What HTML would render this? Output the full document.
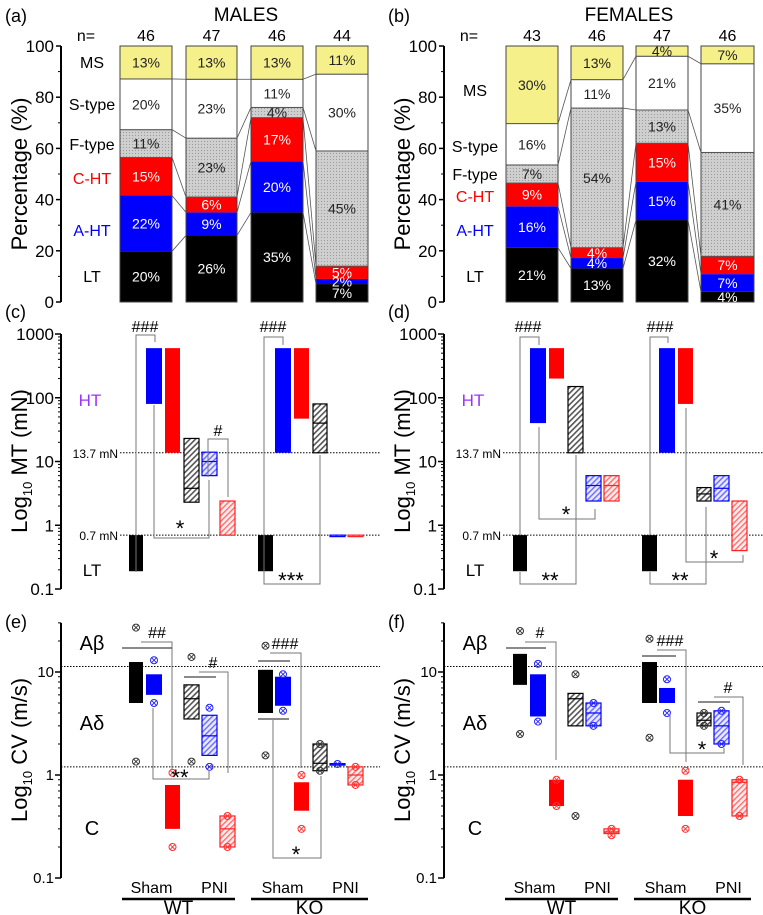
<!DOCTYPE html>
<html><head><meta charset="utf-8"><style>
html,body{margin:0;padding:0;background:#fff}
svg{display:block;font-family:"Liberation Sans",sans-serif}
</style></head><body>
<svg id="fig" width="763" height="915" viewBox="0 0 763 915" xmlns="http://www.w3.org/2000/svg">
<defs>
<pattern id="dots" width="3" height="3" patternUnits="userSpaceOnUse"><rect width="3" height="3" fill="#cfcfcf"/><rect width="1" height="1" fill="#9a9a9a"/></pattern>
<pattern id="hk" width="4" height="4" patternUnits="userSpaceOnUse" patternTransform="rotate(45)"><rect width="4" height="4" fill="#fff"/><rect width="1.6" height="4" fill="#555"/></pattern>
<pattern id="hb" width="4" height="4" patternUnits="userSpaceOnUse" patternTransform="rotate(45)"><rect width="4" height="4" fill="#e8e8ff"/><rect width="1.4" height="4" fill="#6b6bff"/></pattern>
<pattern id="hr" width="4" height="4" patternUnits="userSpaceOnUse" patternTransform="rotate(45)"><rect width="4" height="4" fill="#ffecec"/><rect width="1.4" height="4" fill="#ff7070"/></pattern>
</defs>
</svg>
<script>
// ---- data: stacked percentages (LT, A-HT, C-HT, F-type, S-type, MS)
const segNames=["LT","A-HT","C-HT","F-type","S-type","MS"];
const malesN=[46,47,46,44];
const malesPct=[[20,22,15,11,20,13],[26,9,6,23,23,13],[35,20,17,4,11,13],[7,2,5,45,30,11]];
const femalesN=[43,46,47,46];
const femalesPct=[[21,16,9,7,16,30],[13,4,4,54,11,13],[32,15,15,13,21,4],[4,7,7,41,35,7]];
// ---- MT ranges [low, high, median|null]
const mtMales=[[0.19,0.7,null],[80,600,null],[13.7,600,null],[2.3,23,3.8],[6,14,10],[0.7,2.4,null],
               [0.19,0.7,null],[13.7,600,null],[47,600,null],[13.7,80,40],[0.69,0.7,null],[0.69,0.7,null]];
const mtFemales=[[0.19,0.7,null],[40,600,null],[200,600,null],[13.7,150,null],[2.4,6,4.2],[2.4,6,4.2],
                 [0.19,0.7,null],[13.7,600,null],[80,600,null],[2.4,3.9,3.1],[2.4,6,3.8],[0.4,2.4,null]];
// ---- CV ranges [low, high, median|null] and outlier points
const cvMales=[[5,12.5,null],[6,9.5,null],[0.3,0.8,null],[3.5,7.5,5.5],[1.55,3.8,2.4],[0.2,0.4,0.3],
               [4,10.5,null],[4.7,9,null],[0.45,0.85,null],[1.1,2,1.3],[1.27,1.29,1.28],[0.8,1.2,1.0]];
const cvMalesPts=[[27,1.35],[13,5],[1.05,0.2],[14,1.35],[4.5,1.2],[0.4,0.2],[18,1.55],[9.5,4.2],[1.0,0.3],[2,1.1],[1.28],[1.2,0.8]];
const cvFemales=[[7.5,15,null],[3.7,9.5,null],[0.5,0.9,null],[3,6.2,5.5],[3,5,4],[0.27,0.3,0.28],
                 [5,12.5,null],[5,7,null],[0.4,0.9,null],[3,4,3.4],[2,4.2,3],[0.4,0.9,0.85]];
const cvFemalesPts=[[25,2.5],[12,3.3],[0.9,0.5],[9.5,0.4],[5,3],[0.3,0.26],[21,2.3],[8.5,4],[1.1,0.3],[4,3],[4.2,2],[0.9,0.4]];
const pctTicks=[0,20,40,60,80,100];
const mtTicks=[0.1,1,10,100,1000];
const cvTicks=[0.1,1,10];

const NS="http://www.w3.org/2000/svg";
const svg=document.getElementById('fig');
function mk(tag,at,parent){const e=document.createElementNS(NS,tag);for(const k in at)e.setAttribute(k,at[k]);(parent||svg).appendChild(e);return e;}
function txt(x,y,s,size,anchor,fill,name){const t=mk('text',{x:x,y:y,'font-size':size,'text-anchor':anchor||'middle',fill:fill||'#000'});t.textContent=s;

return t;}

const segFill=["#000","#0000ff","#ff0000","url(#dots)","#fff","#f5f08a"];
const segText=["#fff","#fff","#fff","#222","#222","#222"];
const groupFill=["#000","#0000ff","#ff0000","url(#hk)","url(#hb)","url(#hr)"];
const groupStroke=["#000","#0000ff","#ff0000","#000","#0000ff","#ff2020"];
const ptColor=["#333","#2222ff","#ff3030","#333","#2222ff","#ff3030"];

function panel(ox,title,letter,nArr,pct,mt,cv,pts,barX,grpX,catY){
  const y0=302,y100=46,py=v=>y0-(y0-y100)*v/100;
  txt(ox+5,22,letter[0],18,'start','#000','panel-letter');
  txt(ox+246,21,title,19,'middle','#000','panel-title');
  txt(ox+86,41,'n=',16,'middle','#000','n-label');
  const ax=ox+61;
  const g=mk('g',{});
  mk('line',{x1:ax,y1:y100,x2:ax,y2:y0,stroke:'#000','stroke-width':2},g);
  pctTicks.forEach(t=>{mk('line',{x1:ax-5,y1:py(t),x2:ax,y2:py(t),stroke:'#000','stroke-width':1.5},g);
    txt(ax-7,py(t)+6,String(t),17,'end','#000','y-tick-label');});
  for(let t=10;t<100;t+=20)mk('line',{x1:ax-3,y1:py(t),x2:ax,y2:py(t),stroke:'#000'},g);
  const tt=txt(0,0,'Percentage (%)',22,'middle','#000','y-axis-title');tt.setAttribute('transform',`translate(${ox+27},174) rotate(-90)`);
  const bounds=[];
  pct.forEach((p,i)=>{const sum=p.reduce((a,b)=>a+b,0);let c=0;const bx=ox+barX[i][0],bw=barX[i][1]-barX[i][0];const bd=[0];
    txt(bx+bw/2,41,String(nArr[i]),16,'middle','#000','n-value');
    p.forEach((v,k)=>{const a=c/sum*100,b=(c+v)/sum*100;c+=v;bd.push(b);
      const r=mk('rect',{x:bx,y:py(b),width:bw,height:py(a)-py(b),fill:segFill[k],stroke:k>=3?'#555':'none','stroke-width':1},g);
      
      
      txt(bx+bw/2,(py(a)+py(b))/2+5,v+'%',14,'middle',segText[k],'segment-value');});
    mk('rect',{x:bx,y:y100,width:bw,height:y0-y100,fill:'none',stroke:'#444','stroke-width':1},g);
    bounds.push(bd);});
  for(let i=0;i<3;i++)for(let k=1;k<6;k++)mk('line',{x1:ox+barX[i][1],y1:py(bounds[i][k]),x2:ox+barX[i+1][0],y2:py(bounds[i+1][k]),stroke:'#555','stroke-width':0.8},g);
  catY.forEach((c,k)=>txt(ox+92,c,segNames[k],16,'middle',['#000','#0000ff','#ff0000','#000','#000','#000'][k],'category-label'));

  const mty=v=>334+(3-Math.log10(v))*63.75;
  txt(ox+5,318,letter[1],18,'start','#000','panel-letter');
  const g2=mk('g',{});
  mk('line',{x1:ax,y1:mty(1000),x2:ax,y2:mty(0.1),stroke:'#000','stroke-width':2},g2);
  mtTicks.forEach(t=>{mk('line',{x1:ax-6,y1:mty(t),x2:ax,y2:mty(t),stroke:'#000','stroke-width':1.5},g2);txt(ax-7,mty(t)+6,String(t),17,'end','#000','y-tick-label');
    if(t<1000)for(let m=2;m<10;m++)mk('line',{x1:ax-3,y1:mty(t*m),x2:ax,y2:mty(t*m),stroke:'#000'},g2);});
  const t2=txt(0,0,'',22,'middle','#000','y-axis-title');t2.setAttribute('transform',`translate(${ox+27},461) rotate(-90)`);
  t2.innerHTML='Log<tspan font-size="13" dy="5">10</tspan><tspan dy="-5"> MT (mN)</tspan>';
  [[13.7,'13.7 mN'],[0.7,'0.7 mN']].forEach(d=>{mk('line',{x1:ox+120,y1:mty(d[0]),x2:ox+380,y2:mty(d[0]),stroke:'#000','stroke-dasharray':'1.5,1.5'},g2);
    txt(ox+118,mty(d[0])+5,d[1],12,'end','#000','threshold-label');});
  txt(ox+90,406,'HT',17,'middle','#9933ff','ht-label');txt(ox+92,576,'LT',17,'middle','#000','lt-label');
  mt.forEach((d,i)=>{const x=ox+grpX[i][0],w=grpX[i][1]-grpX[i][0];const yh=mty(d[1]),yl=mty(d[0]);
    const r=mk('rect',{x:x,y:yh,width:w,height:Math.max(1.5,yl-yh),fill:groupFill[i%6],stroke:i%6>=3?groupStroke[i%6]:'none','stroke-width':1.2},g2);
    
    
    if(d[2]!=null)mk('line',{x1:x,y1:mty(d[2]),x2:x+w,y2:mty(d[2]),stroke:groupStroke[i%6],'stroke-width':1.2},g2);});

  const cvy=v=>672+(1-Math.log10(v))*103;
  txt(ox+5,628,letter[2],18,'start','#000','panel-letter');
  const g3=mk('g',{});
  mk('line',{x1:ax,y1:cvy(30),x2:ax,y2:cvy(0.1),stroke:'#000','stroke-width':2},g3);
  cvTicks.forEach(t=>{mk('line',{x1:ax-6,y1:cvy(t),x2:ax,y2:cvy(t),stroke:'#000','stroke-width':1.5},g3);txt(ax-7,cvy(t)+5,String(t),15,'end','#000','y-tick-label');
    for(let m=2;m<10;m++){if(t*m<=30)mk('line',{x1:ax-3,y1:cvy(t*m),x2:ax,y2:cvy(t*m),stroke:'#000'},g3);}});
  const t3=txt(0,0,'',22,'middle','#000','y-axis-title');t3.setAttribute('transform',`translate(${ox+27},750) rotate(-90)`);
  t3.innerHTML='Log<tspan font-size="13" dy="5">10</tspan><tspan dy="-5"> CV (m/s)</tspan>';
  [11.3,1.2].forEach(v=>mk('line',{x1:ax,y1:cvy(v),x2:ox+380,y2:cvy(v),stroke:'#000','stroke-dasharray':'1.5,1.5'},g3));
  txt(ox+92,650,'Aβ',20,'middle','#000','a-beta-label');txt(ox+92,730,'Aδ',20,'middle','#000','a-delta-label');txt(ox+92,835,'C',20,'middle','#000','c-label');
  cv.forEach((d,i)=>{const x=ox+grpX[i][0],w=grpX[i][1]-grpX[i][0];const yh=cvy(d[1]),yl=cvy(d[0]);
    const r=mk('rect',{x:x,y:yh,width:w,height:Math.max(1.5,yl-yh),fill:groupFill[i%6],stroke:i%6>=3?groupStroke[i%6]:'none','stroke-width':1.2},g3);
    
    
    if(d[2]!=null)mk('line',{x1:x,y1:cvy(d[2]),x2:x+w,y2:cvy(d[2]),stroke:groupStroke[i%6],'stroke-width':1.2},g3);
    pts[i].forEach(p=>{const cx=x+w/2,cy=cvy(p),c=ptColor[i%6];
      const o=mk('circle',{cx:cx,cy:cy,r:3.5,fill:'none',stroke:c,'stroke-width':1},g3);
      
      
      mk('path',{d:`M${cx-2.4} ${cy-2.4}L${cx+2.4} ${cy+2.4}M${cx-2.4} ${cy+2.4}L${cx+2.4} ${cy-2.4}`,stroke:c,'stroke-width':0.9},g3);});});
  [[ox+122,ox+235,'WT'],[ox+251,ox+368,'KO']].forEach(a=>{const m=(a[0]+a[1])/2;
    txt(m-27,893,'Sham',16,'middle','#000','sham-label');txt(m+36,893,'PNI',16,'middle','#000','pni-label');
    mk('line',{x1:a[0],y1:899,x2:a[1],y2:899,stroke:'#000','stroke-width':2.5});
    txt(m,914,a[2],19,'middle','#000','genotype-label');});
}
const barX=[[120,172],[186,237],[251,303],[316,368]];
const grpX=[[129,143],[146,162],[165,180],[184,199],[202,217],[220,235],[258,273],[275,291],[294,309],[313,327],[330,345],[348,363]];
panel(0,'MALES',['(a)','(c)','(e)'],malesN,malesPct,mtMales,cvMales,cvMalesPts,barX,grpX,[282,236,184,150,110,68]);
panel(383,'FEMALES',['(b)','(d)','(f)'],femalesN,femalesPct,mtFemales,cvFemales,cvFemalesPts,
  [[123,175],[188,240],[253,305],[318,371]],grpX.map(a=>[a[0]+1,a[1]+1]),[282,236,202,180,152,96]);

const brackets=[
 ['136,572 136,335 155,335 155,342',145,332,'###'],['154,405 154,538 209,538 209,480',180,536,'*'],['208,477 208,439 228,439 228,497',218,436,'#'],
 ['264,572 264,337 283,337 283,345',273,332,'###'],['264,572 264,584 320,584 320,455',291,588,'***'],
 ['520,535 520,337 539,337 539,345',528,332,'###'],['539,427 539,519 595,519 595,509',566,522,'*'],['520,572 520,584 576,584 576,455',550,588,'**'],
 ['650,535 650,337 668,337 668,343',660,332,'###'],['686,408 686,562 743,562 743,555',714,566,'*'],['650,572 650,584 706,584 706,507',680,588,'**'],
 ['141,642 172,642 172,770',157,638,'##'],['153,708 153,779 209,779 209,770',180,785,'**'],['199,672 228,672 228,773',213,668,'#'],
 ['270,653 301,653 301,768',285,649,'###'],['273,720 273,858 321,858 321,776',296,862,'*'],
 ['525,642 556,642 556,760',540,638,'#'],['657,650 686,650 686,762',670,646,'###'],['714,697 743,697 743,765',728,693,'#'],['670,713 670,753 724,753 724,748',702,757,'*']];
brackets.forEach(b=>{const p=mk('polyline',{points:b[0],fill:'none',stroke:'#777','stroke-width':1});
 
 
 txt(b[1],b[2],b[3],b[3].includes('*')?22:16,'middle','#000','significance-mark');});
[[122,172,648],[184,216,677],[258,290,661],[258,289,719],[506,546,648],[642,676,656],[698,730,702]].forEach(l=>{
 const e=mk('line',{x1:l[0],y1:l[2],x2:l[1],y2:l[2],stroke:'#444','stroke-width':1.2});
 
 });
</script>
</body></html>
